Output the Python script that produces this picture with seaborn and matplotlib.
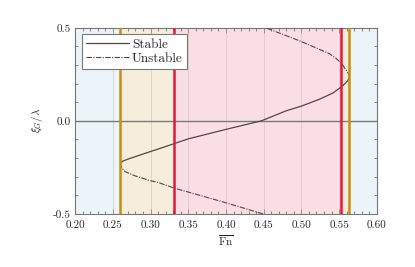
import numpy as np
import pandas as pd
import seaborn as sns
import matplotlib.pyplot as plt
from matplotlib.ticker import MultipleLocator, FixedLocator

# Fn as a function of xi_G/lambda
xi_unstable_low = [-0.50, -0.438, -0.40, -0.361, -0.331, -0.322, -0.295, -0.272, -0.255, -0.242, -0.23]
fn_unstable_low = [0.449, 0.398, 0.365, 0.331, 0.310, 0.300, 0.279, 0.2658, 0.2622, 0.2607, 0.2601]
xi_stable = [-0.23, -0.224, -0.217, -0.206, -0.188, -0.165, -0.145, -0.123, -0.097, -0.048, 0.0,
             0.054, 0.079, 0.116, 0.150, 0.178, 0.20, 0.215, 0.226, 0.235]
fn_stable = [0.2601, 0.2612, 0.263, 0.270, 0.283, 0.300, 0.315, 0.331, 0.350, 0.398, 0.447,
             0.480, 0.500, 0.524, 0.542, 0.5515, 0.558, 0.5612, 0.5628, 0.5634]
xi_unstable_high = [0.235, 0.245, 0.258, 0.28, 0.31, 0.335, 0.361, 0.426, 0.50]
fn_unstable_high = [0.5634, 0.5630, 0.5618, 0.558, 0.553, 0.546, 0.537, 0.500, 0.4526]

# stability region limits
fn_fold = [0.2601, 0.5634]
fn_red = [0.331, 0.553]

sns.set_theme(style="ticks")
plt.rcParams['font.family'] = ['serif']
plt.rcParams['font.serif'] = ['cmr10', 'DejaVu Serif']
plt.rcParams['mathtext.fontset'] = 'cm'
plt.rcParams['axes.unicode_minus'] = False
plt.rcParams['axes.formatter.use_mathtext'] = True

fig = plt.figure(figsize=(4.15, 2.67), dpi=100)
ax = fig.add_axes([0.181, 0.199, 0.727, 0.697])

blue = '#ebf5f9'
beige = '#f6eedb'
pink = '#f9dfe4'
ax.axvspan(0.20, fn_fold[0], color=blue, lw=0, zorder=0)
ax.axvspan(fn_fold[0], fn_red[0], color=beige, lw=0, zorder=0)
ax.axvspan(fn_red[0], fn_red[1], color=pink, lw=0, zorder=0)
ax.axvspan(fn_red[1], fn_fold[1], color=beige, lw=0, zorder=0)
ax.axvspan(fn_fold[1], 0.60, color=blue, lw=0, zorder=0)

for xv in np.arange(0.25, 0.60, 0.05):
    ax.axvline(xv, color='#c8b8b8', lw=0.6, alpha=0.6, zorder=1)
ax.axhline(0.0, color='#7a7a7a', lw=1.0, zorder=2)

line_col = '#574545'
stable = pd.DataFrame({'Fn': fn_stable, 'xi': xi_stable})
unstable = pd.DataFrame({'Fn': fn_unstable_low + [np.nan] + fn_unstable_high,
                         'xi': xi_unstable_low + [np.nan] + xi_unstable_high})
sns.lineplot(data=stable, x='Fn', y='xi', sort=False, estimator=None, ax=ax,
             color=line_col, lw=0.9, label='Stable', zorder=3)
ax.plot(unstable['Fn'], unstable['xi'], color=line_col, lw=0.8,
        ls=(0, (5, 1.2, 1, 1.2)), label='Unstable', zorder=3)

for xv in fn_fold:
    ax.axvline(xv, color='#c98f0c', lw=1.8, zorder=4)
for xv in fn_red:
    ax.axvline(xv, color='#e2173d', lw=1.8, zorder=4)

ax.set_xlim(0.20, 0.60)
ax.set_ylim(-0.5, 0.5)
ax.xaxis.set_major_locator(MultipleLocator(0.05))
ax.xaxis.set_minor_locator(MultipleLocator(0.01))
ax.yaxis.set_major_locator(FixedLocator([-0.5, 0.0, 0.5]))
ax.yaxis.set_minor_locator(MultipleLocator(0.1))
ax.xaxis.set_major_formatter(lambda v, p: f'{v:.2f}')
ax.yaxis.set_major_formatter(lambda v, p: f'{v:.1f}')
ax.tick_params(which='both', direction='in', top=True, right=True, labelsize=8,
               color='#555555')
ax.tick_params(axis='x', pad=5)
ax.tick_params(axis='y', pad=3)
ax.tick_params(which='major', length=3.5, width=0.6)
ax.tick_params(which='minor', length=2, width=0.5)
for s in ax.spines.values():
    s.set_color('#777777')
    s.set_linewidth(0.8)

ax.set_xlabel(r'$\overline{\mathrm{Fn}}$', fontsize=8, labelpad=2)
ax.set_ylabel(r'$\xi_G/\lambda$', fontsize=8, labelpad=6)

leg = ax.legend(loc='upper left', fontsize=9.5, fancybox=False, framealpha=1,
                edgecolor='#777777', borderaxespad=0.5, handlelength=3.3,
                borderpad=0.3, labelspacing=0.15, handletextpad=0.2)
leg.get_frame().set_linewidth(0.8)

fig.savefig('out.png', dpi=100)
